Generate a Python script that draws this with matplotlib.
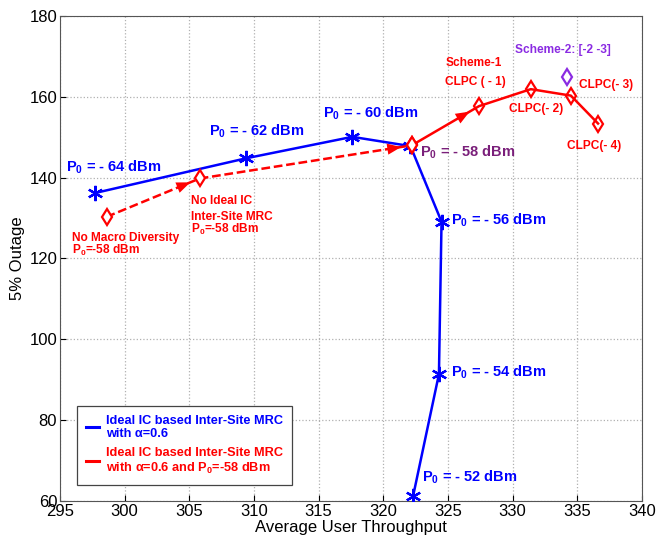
import matplotlib
matplotlib.use("Agg")
import matplotlib.pyplot as plt
from matplotlib.lines import Line2D
from matplotlib import font_manager as fm

avail = {f.name for f in fm.fontManager.ttflist}
NARROW = 'Liberation Sans Narrow' if 'Liberation Sans Narrow' in avail else 'Liberation Sans'
plt.rcParams['font.family'] = ['Liberation Sans', 'DejaVu Sans']
plt.rcParams['mathtext.default'] = 'regular'

# ---- data ----
blue_x = [297.7, 309.4, 317.6, 322.1, 324.5, 324.3, 322.3]
blue_y = [136.2, 144.8, 150.1, 147.8, 129.1, 91.4, 61.2]
blue_labels = ['- 64', '- 62', '- 60', '- 58', '- 56', '- 54', '- 52']

dash_x = [298.6, 305.8, 322.2]
dash_y = [130.3, 139.8, 148.0]

red_x = [322.2, 327.4, 331.4, 334.5, 336.6]
red_y = [148.0, 157.7, 161.9, 160.3, 153.4]

s2_x = [334.2]
s2_y = [165.0]

BLUE = '#0000ff'
RED = '#ff0000'
PURPLE_DARK = '#7a1f7a'
VIOLET = '#8a2be2'

fig = plt.figure(figsize=(6.58, 5.51), dpi=100)
ax = fig.add_axes([60/658, 1-501/551, 582/658, 485/551])

ax.set_xlim(295, 340)
ax.set_ylim(60, 180)
ax.set_xticks(range(295, 341, 5))
ax.set_yticks(range(60, 181, 20))
ax.grid(True, linestyle=':', color='#b0b0b0', linewidth=0.9)
ax.tick_params(labelsize=12, direction='in', length=4, pad=2)
for s in ax.spines.values():
    s.set_color('#555555')
ax.set_xlabel('Average User Throughput', fontsize=12, labelpad=1)
ax.set_ylabel('5% Outage', fontsize=12, labelpad=3)

asterisk = (6, 2, 0)
# blue curve
ax.plot(blue_x, blue_y, color=BLUE, linewidth=1.8, marker=asterisk,
        markersize=11, markeredgewidth=1.6, zorder=3)

# red dashed with arrows
ax.plot(dash_x[:2], dash_y[:2], color=RED, linestyle=(0, (3.5, 1.5)), linewidth=1.8, zorder=4)
ax.plot(dash_x[1:], dash_y[1:], color=RED, linestyle=(0, (3.5, 1.5)), linewidth=1.8, zorder=4)
ax.plot(dash_x, dash_y, linestyle='none', marker='d', markersize=8,
        markerfacecolor='white', markeredgecolor=RED, markeredgewidth=1.6, zorder=5)

# red solid
ax.plot(red_x, red_y, color=RED, linewidth=1.8, marker='d', markersize=8,
        markerfacecolor='none', markeredgecolor=RED, markeredgewidth=1.6, zorder=4)

# arrowheads
def arrowhead(x0, y0, x1, y1, frac):
    xe = x0 + (x1 - x0) * frac
    ye = y0 + (y1 - y0) * frac
    ax.annotate('', xy=(xe, ye), xytext=(x0, y0),
                arrowprops=dict(arrowstyle='-|>,head_length=1.0,head_width=0.4',
                                color=RED, lw=0, shrinkA=0, shrinkB=0), zorder=6)

arrowhead(dash_x[0], dash_y[0], dash_x[1], dash_y[1], 0.9)
arrowhead(dash_x[1], dash_y[1], dash_x[2], dash_y[2], 0.95)
arrowhead(red_x[0], red_y[0], red_x[1], red_y[1], 0.86)

# scheme-2 marker
ax.plot(s2_x, s2_y, linestyle='none', marker='d', markersize=8,
        markerfacecolor='white', markeredgecolor=VIOLET, markeredgewidth=1.6, zorder=5)

# blue labels
blue_pos = [(295.5, 141.4), (306.5, 150.5), (315.3, 154.8), (322.8, 145.2),
            (325.2, 128.3), (325.2, 90.7), (323.0, 64.7)]
for (tx, ty), lab in zip(blue_pos, blue_labels):
    col = PURPLE_DARK if lab == '- 58' else BLUE
    ax.text(tx, ty, 'P$_0$ = ' + lab + ' dBm', color=col, fontsize=10.5,
            fontweight='bold', family=NARROW, ha='left', va='baseline', zorder=7)

# red labels
red_txt = dict(color=RED, fontsize=8.6, fontweight='bold', family=NARROW,
               ha='left', va='baseline', zorder=7)
ax.text(295.9, 124.4, 'No Macro Diversity', **red_txt)
ax.text(295.9, 121.2, 'P$_0$=-58 dBm', **red_txt)
ax.text(305.1, 133.6, 'No Ideal IC', **red_txt)
ax.text(305.1, 129.6, 'Inter-Site MRC', **red_txt)
ax.text(305.1, 126.4, 'P$_0$=-58 dBm', **red_txt)
ax.text(324.8, 167.6, 'Scheme-1', **red_txt)
ax.text(324.8, 162.9, 'CLPC ( - 1)', **red_txt)
ax.text(335.1, 162.3, 'CLPC(- 3)', **red_txt)
ax.text(329.7, 156.3, 'CLPC(- 2)', **red_txt)
ax.text(334.2, 147.0, 'CLPC(- 4)', **red_txt)
ax.text(330.2, 170.8, 'Scheme-2: [-2 -3]', color=VIOLET, fontsize=8.6,
        fontweight='bold', family=NARROW, ha='left', va='baseline', zorder=7)

# legend
handles = [Line2D([], [], color=BLUE, linewidth=2.2),
           Line2D([], [], color=RED, linewidth=2.2)]
labels = ['Ideal IC based Inter-Site MRC\nwith \u03b1=0.6',
          'Ideal IC based Inter-Site MRC\nwith \u03b1=0.6 and P$_0$=-58 dBm']
leg = ax.legend(handles, labels, loc='lower left', bbox_to_anchor=(0.029, 0.033),
                borderaxespad=0, fancybox=False, edgecolor='#444444', framealpha=1,
                handlelength=1.0, handletextpad=0.6, borderpad=0.7, labelspacing=0.5,
                prop=dict(family=NARROW, weight='bold', size=9.2))
leg.get_frame().set_linewidth(0.9)
for t, c in zip(leg.get_texts(), [BLUE, RED]):
    t.set_color(c)

fig.savefig('out.png', dpi=100)
